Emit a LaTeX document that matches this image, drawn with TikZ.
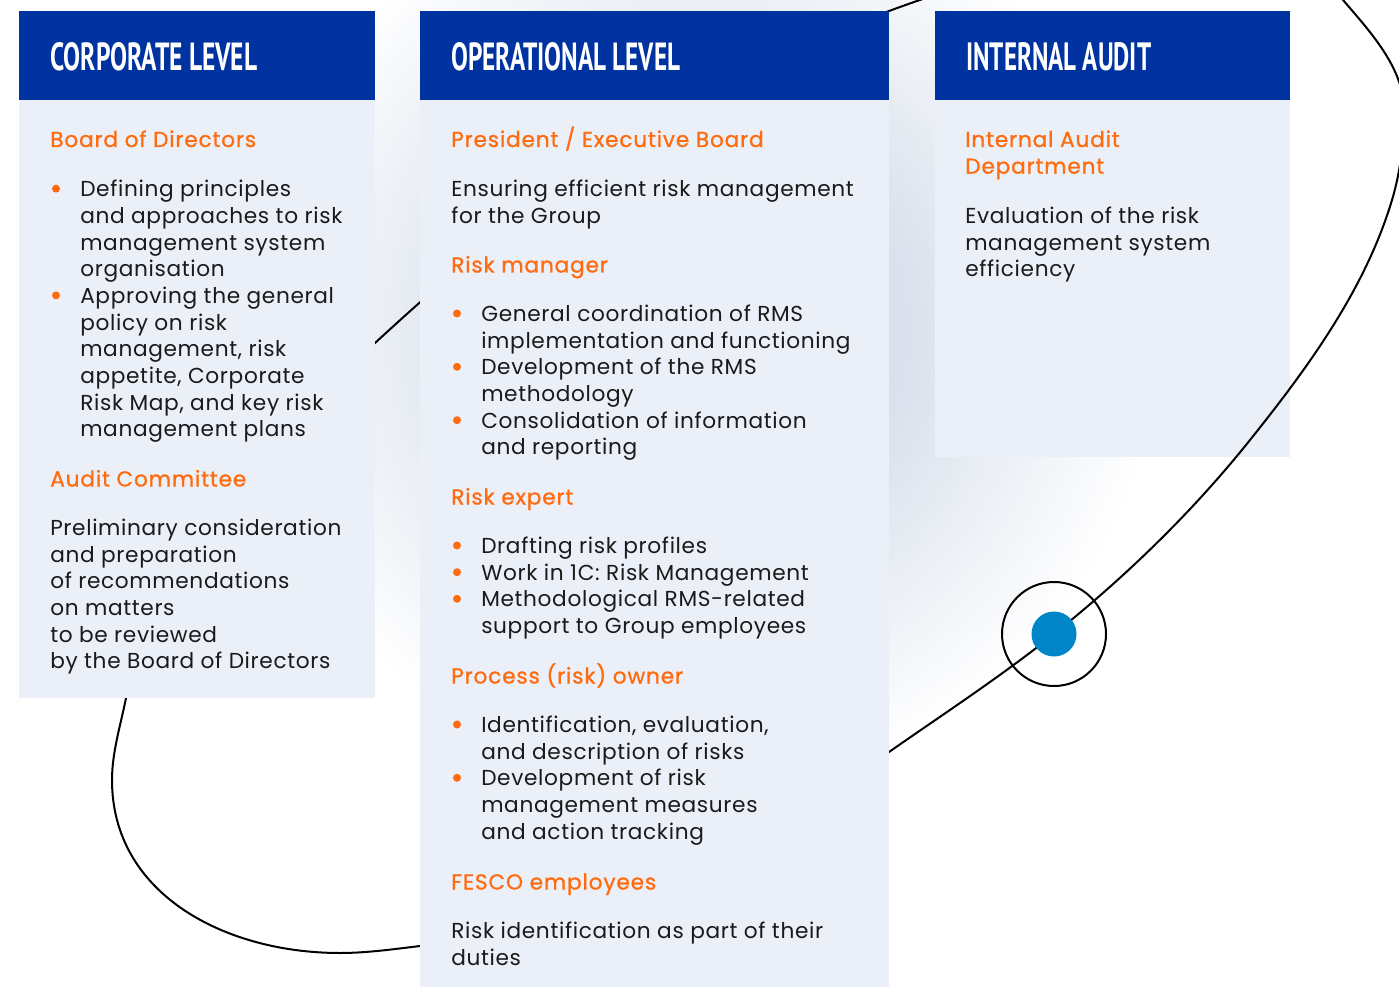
\documentclass[tikz,border=0pt]{standalone}
\usepackage{fontspec}
\setmainfont{Poppins}[LetterSpace=3]
\newfontfamily\headfont{Poppins}[FakeBold=0.9,LetterSpace=3.8]
\newfontfamily\capsfont{PT Sans}

\definecolor{hdrblue}{HTML}{0033A0}
\definecolor{panel}{HTML}{EBF0F8}
\definecolor{accent}{HTML}{FF6B0F}
\definecolor{dotblue}{HTML}{0085C9}
\definecolor{ink}{HTML}{1A1A1A}
\definecolor{glow}{HTML}{BCC9DE}

\newcommand\bodysize{\fontsize{16.25pt}{20pt}\selectfont}
% one node per printed line, stepping down by the line pitch
\newcommand\txtlines[5]{%
  \foreach \tx [count=\k from 0] in {#5}{%
    \node[#4] (#1\k) at (#2,{#3+\k*26.67}) {\tx};}}
\newcommand\bul[2]{\fill[accent] (#1,{#2-8}) circle (4);}
\newcommand\captext[3]{\resizebox{#1}{#2}{\capsfont\bfseries #3}}

\begin{document}
\begin{tikzpicture}[x=0.75pt,y=-0.75pt,
  bodytxt/.style={anchor=base west,inner sep=0pt,text=ink,font=\bodysize},
  headtxt/.style={anchor=base west,inner sep=0pt,text=accent,font=\bodysize\headfont},
  captxt/.style={anchor=base west,inner sep=0pt,text=white},
  loopline/.style={line width=1.5pt,black},
]
\useasboundingbox (0,0) rectangle (1399,987);
\fill[white] (0,0) rectangle (1399,987);

\begin{scope}
  \clip (0,0) rectangle (1399,987);
  % soft haze behind the operational column
  \shade[inner color=glow,outer color=white] (700,330) circle (460);
  % internal audit column sits below the loop
  \fill[panel] (935,100) rectangle (1290,457);
  \fill[hdrblue] (935,11) rectangle (1290,100);
  % the loop
  \draw[loopline]
    (889,752) .. controls (944.4,713.3) and (1001.2,676.3) .. (1054,634)
    .. controls (1125.8,576.6) and (1192.6,511.8) .. (1250,440)
    .. controls (1308.1,367.4) and (1365.3,289.1) .. (1392,200)
    .. controls (1400.7,171) and (1404,140.3) .. (1404,110)
    .. controls (1404,68.1) and (1370.2,31.8) .. (1343,0)
    .. controls (1306.1,-43.2) and (1236.8,-50) .. (1180,-50)
    .. controls (1084.8,-50) and (989.6,-25.3) .. (900,7)
    .. controls (714.2,74) and (544.2,189.1) .. (398,322)
    .. controls (283.5,426.1) and (156.3,546.2) .. (126,698)
    .. controls (120.6,725.2) and (112,752.3) .. (112,780)
    .. controls (112,894.5) and (225.5,953) .. (340,953)
    .. controls (366.8,953) and (393.4,949.2) .. (420,946)
    .. controls (588,925.9) and (750.4,849) .. cycle;
\end{scope}

% corporate and operational columns
\fill[panel] (19,100) rectangle (375,698);
\fill[hdrblue] (19,11) rectangle (375,100);
\fill[panel] (420,100) rectangle (889,987);
\fill[hdrblue] (420,11) rectangle (889,100);

% marker on the loop
\draw[loopline] (1054,634) circle (52);
\fill[dotblue] (1054,634) circle (22.5);

% column titles
\node[captxt] (hcorp) at (50,71) {\captext{155.25pt}{21pt}{CORPORATE LEVEL}};
\node[captxt] (hoper) at (451,71) {\captext{171.75pt}{21pt}{OPERATIONAL LEVEL}};
\node[captxt] (haud) at (966,71) {\captext{138.75pt}{21pt}{INTERNAL AUDIT}};

% corporate level
\node[headtxt] (c-h1) at (50,147) {Board of Directors};
\txtlines{c-b}{80}{196.7}{bodytxt}{{Defining principles},{and approaches to risk},{management system},{organisation},{Approving the general},{policy on risk},{management, risk},{appetite, Corporate},{Risk Map, and key risk},{management plans}}
\bul{56}{196.7}
\bul{56}{303.4}
\node[headtxt] (c-h2) at (50,486.5) {Audit Committee};
\txtlines{c-p}{50}{535.5}{bodytxt}{{Preliminary consideration},{and preparation},{of recommendations},{on matters},{to be reviewed},{by the Board of Directors}}

% operational level
\node[headtxt] (o-h1) at (451,147) {President / Executive Board};
\txtlines{o-p}{451}{196.5}{bodytxt}{{Ensuring efficient risk management},{for the Group}}
\node[headtxt] (o-h2) at (451,272.5) {Risk manager};
\txtlines{o-m}{481}{321.5}{bodytxt}{{General coordination of RMS},{implementation and functioning},{Development of the RMS},{methodology},{Consolidation of information},{and reporting}}
\bul{457}{321.5}
\bul{457}{374.8}
\bul{457}{428.2}
\node[headtxt] (o-h3) at (451,504.5) {Risk expert};
\txtlines{o-e}{481}{553.5}{bodytxt}{{Drafting risk profiles},{Work in 1C: Risk Management},{Methodological RMS-related},{support to Group employees}}
\bul{457}{553.5}
\bul{457}{580.2}
\bul{457}{606.8}
\node[headtxt] (o-h4) at (451,683.5) {Process (risk) owner};
\txtlines{o-o}{481}{732.5}{bodytxt}{{Identification, evaluation,},{and description of risks},{Development of risk},{management measures},{and action tracking}}
\bul{457}{732.5}
\bul{457}{785.8}
\node[headtxt] (o-h5) at (451,889.5) {FESCO employees};
\txtlines{o-f}{451}{938.5}{bodytxt}{{Risk identification as part of their},{duties}}

% internal audit
\txtlines{a-h}{965}{147}{headtxt}{{Internal Audit},{Department}}
\txtlines{a-p}{965}{223.5}{bodytxt}{{Evaluation of the risk},{management system},{efficiency}}
\end{tikzpicture}
\end{document}
